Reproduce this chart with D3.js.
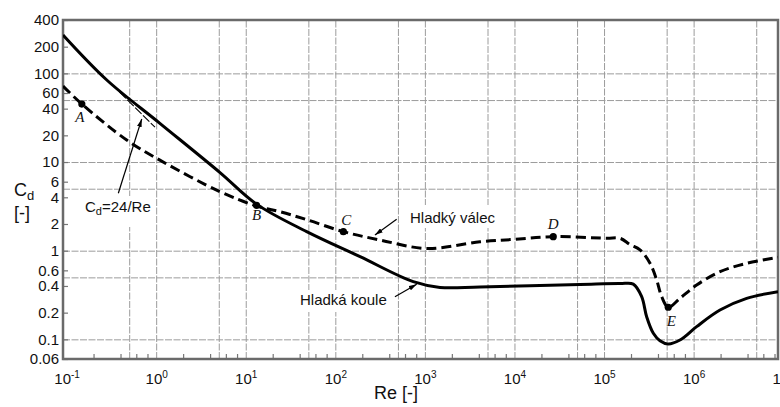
<!DOCTYPE html>
<html><head><meta charset="utf-8">
<script src="https://cdn.jsdelivr.net/npm/d3@7"></script>
<style>
body{margin:0;background:#fff}
svg{display:block;font-family:"Liberation Sans",Arial,sans-serif}
</style>
</head><body>
<svg id="chart" width="780" height="407"></svg>
<script>
// ---- data ----
const sphereRe = [0.0912, 0.281, 1.10, 5.16, 13.2, 47.9, 189, 741, 1475, 4121, 53800, 150000, 212000, 263000, 299000, 355000, 421000, 521000, 704000, 1.08e6, 1.97e6, 3.91e6, 8.75e6];
const sphereCd = [271, 84.2, 27.3, 7.6, 3.35, 1.64, 0.855, 0.447, 0.385, 0.39, 0.415, 0.425, 0.42, 0.303, 0.180, 0.117, 0.0964, 0.0886, 0.0982, 0.139, 0.214, 0.290, 0.344];

const cylRe = [0.0912, 0.148, 0.469, 1.10, 5.16, 13.2, 24.1, 47.9, 123, 315, 1047, 4121, 9700, 27100, 107000, 150700, 195000, 252000, 326000, 387000, 440000, 521000, 704000, 1.08e6, 1.97e6, 3.91e6, 8.75e6];
const cylCd = [72.0, 45.1, 17.7, 10.5, 4.63, 3.19, 2.75, 2.24, 1.64, 1.32, 1.06, 1.26, 1.34, 1.44, 1.38, 1.38, 1.17, 1.02, 0.72, 0.467, 0.303, 0.230, 0.290, 0.410, 0.579, 0.720, 0.841];

const stokesRe = [0.39, 0.97];
const stokesCd = [61.5, 24.7];

const pointLabels = ["A", "B", "C", "D", "E"];
const pointRe = [0.148, 13.2, 123, 27100, 521000];
const pointCd = [45.1, 3.25, 1.64, 1.44, 0.230];

const yTickValues = [400, 200, 100, 60, 40, 20, 10, 6, 4, 2, 1, 0.6, 0.4, 0.2, 0.1, 0.06];
const yTickLabels = ["400", "200", "100", "60", "40", "20", "10", "6", "4", "2", "1", "0.6", "0.4", "0.2", "0.1", "0.06"];
const xTickExponents = [-1, 0, 1, 2, 3, 4, 5, 6, 7];
const xGridValues = [0.5, 1, 5, 10, 50, 100, 500, 1e3, 5e3, 1e4, 5e4, 1e5, 5e5, 1e6, 5e6];
const yGridValues = [0.1, 0.5, 1, 5, 10, 50, 100];
const xMinorMultipliers = [2, 4, 6, 8];

// annotation arrows (tail -> head) in data units
const arrowRe = [[0.378, 0.690], [484, 277], [463, 810]];
const arrowCd = [[4.44, 30.6], [2.26, 1.50], [0.303, 0.418]];

// ---- layout ----
const L = {left: 63, right: 778, top: 20, bottom: 359};
const svg = d3.select("#chart");
svg.append("rect").attr("width", 780).attr("height", 407).attr("fill", "#fff");

const x = d3.scaleLog().domain([0.0912, 8.75e6]).range([L.left, L.right]);
const y = d3.scaleLog().domain([0.06, 400]).range([L.bottom, L.top]);
const W = L.right - L.left, H = L.bottom - L.top;

svg.append("clipPath").attr("id", "clip").append("rect")
  .attr("x", L.left).attr("y", L.top).attr("width", W).attr("height", H);

// grid
const gx = svg.append("g").attr("transform", `translate(0,${L.bottom})`)
  .call(d3.axisBottom(x).tickValues(xGridValues).tickSize(-H).tickFormat(""));
gx.select(".domain").remove();
gx.selectAll("line").attr("stroke", "#9c9c9c").attr("stroke-width", 1).attr("stroke-dasharray", "7,1.5");
const gy = svg.append("g").attr("transform", `translate(${L.left},0)`)
  .call(d3.axisLeft(y).tickValues(yGridValues).tickSize(-W).tickFormat(""));
gy.select(".domain").remove();
gy.selectAll("line").attr("stroke", "#9c9c9c").attr("stroke-width", 1).attr("stroke-dasharray", "7,1.5");

// minor ticks on the bottom axis (inside)
const minorX = [];
for (let e = -1; e <= 6; e++) xMinorMultipliers.forEach(m => { const v = m * Math.pow(10, e); if (v < 8.75e6) minorX.push(v); });
const mx = svg.append("g").attr("transform", `translate(0,${L.bottom})`)
  .call(d3.axisBottom(x).tickValues(minorX).tickSize(-5).tickFormat(""));
mx.select(".domain").remove();
mx.selectAll("line").attr("stroke", "#777").attr("stroke-width", 1.2);

// left axis with labels
const ay = svg.append("g").attr("transform", `translate(${L.left},0)`)
  .call(d3.axisLeft(y).tickValues(yTickValues).tickSizeInner(-5).tickSizeOuter(0).tickPadding(4)
    .tickFormat((d, i) => yTickLabels[i]));
ay.select(".domain").remove();
ay.selectAll("line").attr("stroke", "#777").attr("stroke-width", 1.2);
ay.selectAll("text").attr("font-size", 15).attr("fill", "#111")
  .attr("font-family", "'Liberation Sans',Arial,sans-serif");

// bottom axis labels with superscripts
const ax = svg.append("g").attr("transform", `translate(0,${L.bottom})`)
  .call(d3.axisBottom(x).tickValues(xTickExponents.map(e => Math.pow(10, e))).tickSize(0).tickPadding(14).tickFormat(""));
ax.select(".domain").remove();
ax.selectAll(".tick text").each(function(d, i) {
  const t = d3.select(this).attr("font-size", 15).attr("fill", "#111")
    .attr("font-family", "'Liberation Sans',Arial,sans-serif").attr("text-anchor", "middle");
  t.text(null);
  t.append("tspan").text("10");
  t.append("tspan").attr("dy", -6).attr("font-size", 10).text(String(xTickExponents[i]));
});

// frame
svg.append("rect").attr("x", L.left).attr("y", L.top).attr("width", W).attr("height", H)
  .attr("fill", "none").attr("stroke", "#6a6a6a").attr("stroke-width", 2.5);

// white boxes behind annotation text
const boxes = [[82, 196, 72, 31], [405, 205, 93, 23], [296, 290, 99, 22]];
boxes.forEach(b => svg.append("rect").attr("x", b[0]).attr("y", b[1]).attr("width", b[2]).attr("height", b[3]).attr("fill", "#fff"));

// curves
const line = d3.line().x(d => x(d[0])).y(d => y(d[1])).curve(d3.curveCatmullRom.alpha(0.5));
const plot = svg.append("g").attr("clip-path", "url(#clip)");
plot.append("path").datum(sphereRe.map((r, i) => [r, sphereCd[i]]))
  .attr("d", line).attr("fill", "none").attr("stroke", "#000").attr("stroke-width", 3);
plot.append("path").datum(cylRe.map((r, i) => [r, cylCd[i]]))
  .attr("d", line).attr("fill", "none").attr("stroke", "#000").attr("stroke-width", 3)
  .attr("stroke-dasharray", "10,5");
plot.append("path").datum(stokesRe.map((r, i) => [r, stokesCd[i]]))
  .attr("d", d3.line().x(d => x(d[0])).y(d => y(d[1])))
  .attr("fill", "none").attr("stroke", "#000").attr("stroke-width", 1.1).attr("stroke-dasharray", "9,2");

// points
const labelOffsets = [[-2, 18], [0, 15], [3, -7], [0, -8], [3, 19]];
pointRe.forEach((r, i) => {
  svg.append("circle").attr("cx", x(r)).attr("cy", y(pointCd[i])).attr("r", 3.6).attr("fill", "#000");
  svg.append("text").attr("x", x(r) + labelOffsets[i][0]).attr("y", y(pointCd[i]) + labelOffsets[i][1])
    .attr("text-anchor", "middle").attr("font-family", "'Liberation Serif','Times New Roman',serif")
    .attr("font-style", "italic").attr("font-size", 15).attr("fill", "#111").text(pointLabels[i]);
});

// arrows
const defs = svg.append("defs");
defs.append("marker").attr("id", "ah").attr("viewBox", "0 0 10 6").attr("refX", 10).attr("refY", 3)
  .attr("markerWidth", 8).attr("markerHeight", 5).attr("markerUnits", "userSpaceOnUse").attr("orient", "auto")
  .append("path").attr("d", "M0,0 L10,3 L0,6 Z").attr("fill", "#000");
arrowRe.forEach((rr, i) => {
  svg.append("line").attr("x1", x(rr[0])).attr("y1", y(arrowCd[i][0]))
    .attr("x2", x(rr[1])).attr("y2", y(arrowCd[i][1]))
    .attr("stroke", "#000").attr("stroke-width", 1.2).attr("marker-end", "url(#ah)");
});

// annotation texts
const cd = svg.append("text").attr("x", 85).attr("y", 212).attr("font-size", 15).attr("fill", "#111");
cd.append("tspan").text("C");
cd.append("tspan").attr("font-size", 11).attr("dy", 3).text("d");
cd.append("tspan").attr("dy", -3).text("=24/Re");
svg.append("text").attr("x", 410).attr("y", 223).attr("font-size", 15).attr("fill", "#111").text("Hladký válec");
svg.append("text").attr("x", 300).attr("y", 305).attr("font-size", 15).attr("fill", "#111").text("Hladká koule");

// axis titles
svg.append("text").attr("x", 396).attr("y", 399).attr("text-anchor", "middle").attr("font-size", 18).attr("fill", "#111").text("Re [-]");
const yt = svg.append("text").attr("x", 14).attr("y", 196).attr("font-size", 18).attr("fill", "#111");
yt.append("tspan").text("C");
yt.append("tspan").attr("font-size", 13).attr("dy", 4).text("d");
svg.append("text").attr("x", 14).attr("y", 219).attr("font-size", 18).attr("fill", "#111").text("[-]");
</script>
</body></html>
